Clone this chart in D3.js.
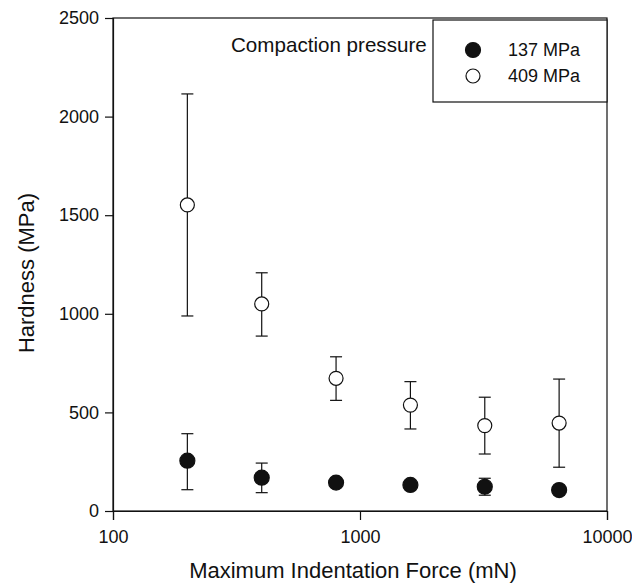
<!DOCTYPE html>
<html><head><meta charset="utf-8">
<script src="https://cdn.jsdelivr.net/npm/d3@7"></script>
<style>body{margin:0;background:#fff}svg{display:block}text{font-family:"Liberation Sans",Arial,sans-serif;fill:#111}</style>
</head><body><svg id="c" width="632" height="583"></svg>
<script>
const forces = [200, 400, 800, 1600, 3200, 6400];
const mean137 = [255, 169, 144, 132, 123, 106];
const upper137 = [392, 243, 144, 132, 166, 106];
const lower137 = [108, 93, 144, 132, 80, 106];
const mean409 = [1552, 1050, 673, 537, 433, 446];
const upper409 = [2115, 1208, 782, 656, 577, 669];
const lower409 = [989, 887, 561, 416, 289, 222];
const xTicks = [100, 1000, 10000];
const yTicks = [0, 500, 1000, 1500, 2000, 2500];
const seriesNames = ["137 MPa", "409 MPa"];

const svg = d3.select("#c");
const L = 113, R = 607, T = 18, B = 511;
const x = d3.scaleLog().domain([100, 10000]).range([L, R]);
const y = d3.scaleLinear().domain([0, 2500]).range([B, T]);
const ink = "#111";

// frame
svg.append("rect").attr("x", L).attr("y", T).attr("width", R - L).attr("height", B - T)
  .attr("fill", "none").attr("stroke", ink).attr("stroke-width", 1.2);

const xAxis = svg.append("g").attr("transform", `translate(0,${B})`)
  .call(d3.axisBottom(x).tickValues(xTicks).tickFormat(d3.format("d")).tickSizeOuter(0).tickSize(9).tickPadding(10));
const yAxis = svg.append("g").attr("transform", `translate(${L},0)`)
  .call(d3.axisLeft(y).tickValues(yTicks).tickFormat(d3.format("d")).tickSizeOuter(0).tickSize(8).tickPadding(6));
[xAxis, yAxis].forEach(g => {
  g.select(".domain").attr("stroke", ink).attr("stroke-width", 1.2);
  g.selectAll(".tick line").attr("stroke", ink).attr("stroke-width", 1.2);
  g.selectAll(".tick text").attr("font-size", 18).attr("fill", ink)
    .attr("font-family", '"Liberation Sans",Arial,sans-serif');
});

svg.append("text").attr("x", 353).attr("y", 578).attr("text-anchor", "middle")
  .attr("font-size", 22).text("Maximum Indentation Force (mN)");
svg.append("text").attr("transform", `translate(34,${273}) rotate(-90)`).attr("text-anchor", "middle")
  .attr("font-size", 22).text("Hardness (MPa)");

function drawSeries(mean, up, lo, filled) {
  const g = svg.append("g");
  forces.forEach((f, i) => {
    const cx = x(f);
    if (up[i] !== lo[i]) {
      g.append("line").attr("x1", cx).attr("x2", cx).attr("y1", y(up[i])).attr("y2", y(lo[i]))
        .attr("stroke", ink).attr("stroke-width", 1.2);
      [up[i], lo[i]].forEach(v => g.append("line").attr("x1", cx - 6).attr("x2", cx + 6)
        .attr("y1", y(v)).attr("y2", y(v)).attr("stroke", ink).attr("stroke-width", 1.2));
    }
  });
  g.selectAll("circle").data(forces).join("circle")
    .attr("cx", d => x(d)).attr("cy", (d, i) => y(mean[i])).attr("r", filled ? 7.5 : 7)
    .attr("fill", filled ? ink : "#fff").attr("stroke", ink).attr("stroke-width", 1.2);
}
drawSeries(mean409, upper409, lower409, false);
drawSeries(mean137, upper137, lower137, true);

// legend
svg.append("text").attr("x", 231).attr("y", 52).attr("font-size", 20.6).text("Compaction pressure");
svg.append("rect").attr("x", 433).attr("y", 20).attr("width", 174).attr("height", 82)
  .attr("fill", "#fff").attr("stroke", ink).attr("stroke-width", 1.2);
seriesNames.forEach((n, i) => {
  const ly = 50 + i * 26;
  svg.append("circle").attr("cx", 473).attr("cy", ly).attr("r", i === 0 ? 7.5 : 7)
    .attr("fill", i === 0 ? ink : "#fff").attr("stroke", ink).attr("stroke-width", 1.2);
  svg.append("text").attr("x", 508).attr("y", ly + 6).attr("font-size", 18).text(n);
});
</script></body></html>
